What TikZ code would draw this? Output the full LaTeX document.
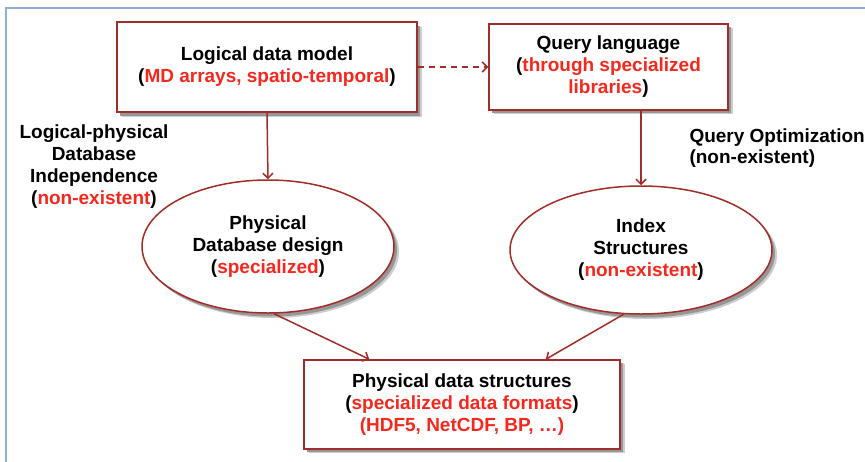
\documentclass[tikz,border=0pt]{standalone}
\usepackage{fontspec}
\setmainfont{Liberation Sans}
\usetikzlibrary{arrows.meta,shapes.geometric}
\definecolor{boxred}{RGB}{160,45,40}
\definecolor{txtred}{RGB}{245,40,30}
\definecolor{frameblue}{RGB}{140,175,215}
\definecolor{shadowgray}{RGB}{150,150,150}
\definecolor{shadowlight}{RGB}{205,205,205}
\tikzset{
  txt/.style={font=\bfseries\fontsize{19}{22}\selectfont, align=center, text=black},
  boxnode/.style={txt, draw=boxred, line width=1.5pt, fill=white},
  ellnode/.style={boxnode, ellipse, inner sep=0pt},
  conn/.style={draw=boxred, line width=1.5pt, -{Straight Barb[length=5pt,width=10pt,line width=1.5pt]}},
}
\newcommand{\rd}[1]{\textcolor{txtred}{#1}}
\begin{document}
\begin{tikzpicture}[x=1pt,y=-1pt]
\useasboundingbox (0,0) rectangle (865,461);
\fill[white] (0,0) rectangle (865,461);
\draw[frameblue, line width=1.2pt] (6,470) -- (6,8) -- (875,8);

% soft drop shadows, drawn directly under the shapes
\fill[shadowlight] (122,27) rectangle (422,117);
\fill[shadowgray] (120,25.5) rectangle (420,115.5);
\fill[shadowlight] (494,28) rectangle (733,114);
\fill[shadowgray] (492,26.5) rectangle (731,112.5);
\fill[shadowlight] (309,364) rectangle (625,453);
\fill[shadowgray] (307,362.5) rectangle (623,451.5);
\fill[shadowlight] (273,251.5) ellipse [x radius=126, y radius=66.5];
\fill[shadowgray] (271,250) ellipse [x radius=126, y radius=66.5];
\fill[shadowlight] (646,255) ellipse [x radius=131, y radius=64];
\fill[shadowgray] (644,253.5) ellipse [x radius=131, y radius=64];

\node[boxnode, minimum width=300pt, minimum height=90pt] (logical) at (267,67)
  {Logical data model\\(\rd{MD arrays, spatio-temporal})};
\node[boxnode, minimum width=239pt, minimum height=86pt] (query) at (608.5,67)
  {Query language\\(\rd{through specialized}\\\rd{libraries})};
\node[ellnode, minimum width=252pt, minimum height=133pt] (phys) at (268,246.5)
  {Physical\\Database design\\(\rd{specialized})};
\node[ellnode, minimum width=262pt, minimum height=128pt] (index) at (641,250)
  {Index\\Structures\\(\rd{non-existent})};
\node[boxnode, minimum width=316pt, minimum height=89pt] (ds) at (462,404.5)
  {Physical data structures\\(\rd{specialized data formats})\\\rd{(HDF5, NetCDF, BP, \dots)}};

\node[txt] (lpdi) at (94,167) {Logical-physical\\Database\\Independence\\(\rd{non-existent})};
\node[txt, align=left, anchor=west, font=\bfseries\fontsize{19}{20.5}\selectfont] (qopt) at (686,148)
  {Query Optimization\\(non-existent)};

\draw[conn, dashed, dash pattern=on 6pt off 5pt] (logical.east) -- (query.west);
\draw[conn] (logical.south) -- (phys.north);
\draw[conn] (query.south -| index.north) -- (index.north);
\draw[conn] (phys.-85) -- ([xshift=66pt]ds.north west);
\draw[conn] (index.-105) -- ([xshift=-75pt]ds.north east);
\end{tikzpicture}
\end{document}
